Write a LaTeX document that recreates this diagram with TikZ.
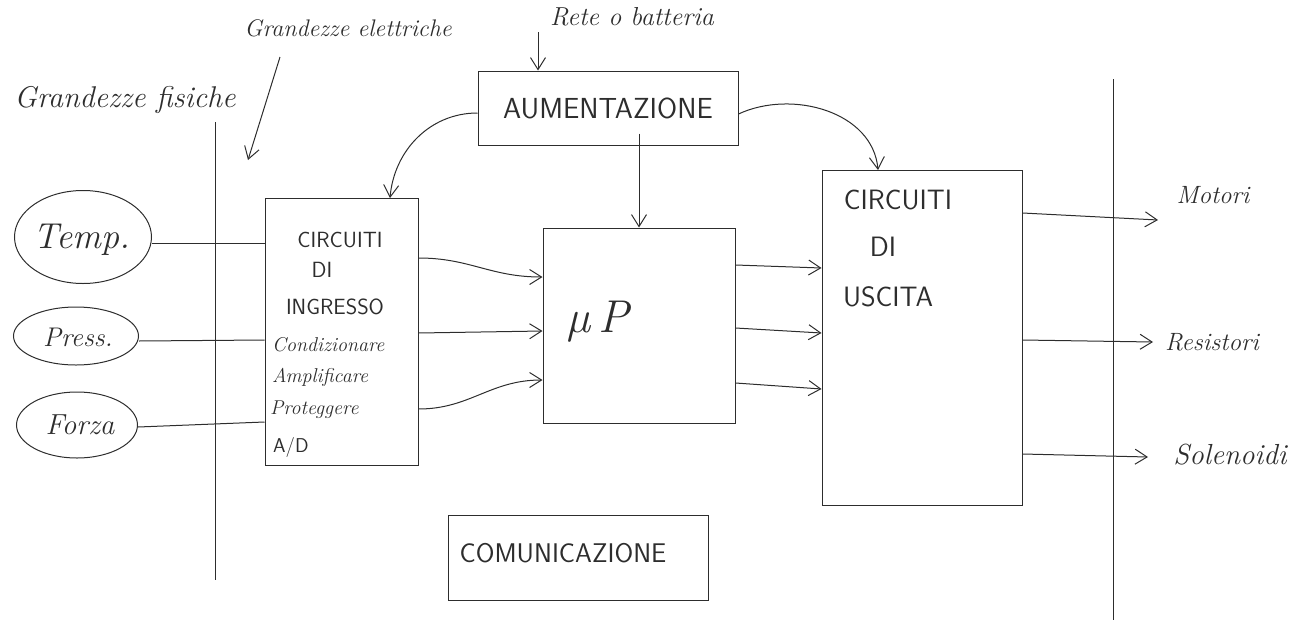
\documentclass[tikz,border=0pt]{standalone}
\usepackage{fontspec}
\usetikzlibrary{arrows.meta,shapes.geometric}
\definecolor{pen}{RGB}{45,45,45}
\begin{document}
\begin{tikzpicture}[x=1pt,y=-1pt,
  ink/.style={draw=pen, line width=1pt},
  block/.style={ink, rectangle, inner sep=0pt},
  qty/.style={ink, ellipse, inner sep=0pt},
  flow/.style={ink, -{Straight Barb[length=12pt,width=15pt,line width=1pt]}},
  wire/.style={ink},
  hand/.style={text=pen, inner sep=0pt, font=\itshape\fontsize{#1}{#1}\selectfont},
  caps/.style={text=pen, inner sep=0pt, font=\sffamily\fontsize{#1}{#1}\selectfont}]
\useasboundingbox (0,0) rectangle (1315,627);

% boundaries between physical and electrical quantities
\draw[wire] (215,122) coordinate (lb-top) -- (215,580) coordinate (lb-bot);
\draw[wire] (1113,79) coordinate (rb-top) -- (1113,620) coordinate (rb-bot);

% headings
\node[hand=30] (fis) at (125,100) {Grandezze fisiche};
\node[hand=24] (ele) at (348,28) {Grandezze elettriche};
\coordinate (ele-tail) at (280,57);
\coordinate (ele-tip) at (248,160);
\draw[flow] (ele-tail) -- (ele-tip);

% blocks
\node[block, minimum width=260, minimum height=74] (alim) at (608,108) {};
\node[caps=29] at (alim) {AUMENTAZIONE};
\node[block, minimum width=153, minimum height=267] (inp) at (341.5,331.5) {};
\node[block, minimum width=192, minimum height=195] (mup) at (639,325.5) {};
\node[block, minimum width=200, minimum height=335] (out) at (922,337.5) {};
\node[block, minimum width=260, minimum height=85] (comm) at (578,557.5) {};
\node[caps=27] at (563,553) {COMUNICAZIONE};

% block texts
\node[caps=22] at (340,240) {CIRCUITI};
\node[caps=22] at (322,270) {DI};
\node[caps=22] at (335,307) {INGRESSO};
\node[hand=20, anchor=west] at (272,345) {Condizionare};
\node[hand=20, anchor=west] at (272,377) {Amplificare};
\node[hand=20, anchor=west] at (270,410) {Proteggere};
\node[caps=20, anchor=west] at (273,447) {A/D};

\node[hand=46] at (598,322) {\symbol{"00B5}\,P};

\node[caps=28] at (898,200) {CIRCUITI};
\node[caps=28] at (883,247) {DI};
\node[caps=28] at (888,297) {USCITA};

% power supply
\node[hand=26] (rete) at (632,17) {Rete o batteria};
\coordinate (rete-tail) at (538,32);
\draw[flow] (rete-tail) -- (rete-tail |- alim.north);
\draw[flow] ([yshift=-5]alim.west) to[out=180,in=85] (390,198);
\draw[flow] ([yshift=-6]alim.east) to[out=25,in=95] (878,170);
\draw[flow] ([yshift=12]alim.south -| mup.north) -- (mup.north);

% physical quantities
\node[qty, minimum width=137, minimum height=93] (temp) at (83,237) {};
\node[hand=36] at (82,240) {Temp.};
\node[qty, minimum width=125, minimum height=58] (press) at (76,336) {};
\node[hand=27] at (78,337) {Press.};
\node[qty, minimum width=121, minimum height=66] (forza) at (77,425) {};
\node[hand=29] at (80,425) {Forza};

\draw[wire] (temp.east) ++(0,6) -- (inp.west |- 0,243);
\draw[wire] (press.east) ++(0,5) -- (inp.west |- 0,340);
\draw[wire] (forza.east) ++(0,2) -- (inp.west |- 0,422);

% input circuits to microprocessor
\draw[flow] (inp.east |- 0,258) .. controls (470,258) and (490,277) .. (mup.west |- 0,277);
\draw[flow] (inp.east |- 0,333) -- (mup.west |- 0,331);
\draw[flow] (inp.east |- 0,409) .. controls (470,409) and (490,380) .. (mup.west |- 0,380);

% microprocessor to output circuits
\draw[flow] (mup.east |- 0,265) -- (out.west |- 0,268);
\draw[flow] (mup.east |- 0,328) -- (out.west |- 0,333);
\draw[flow] (mup.east |- 0,383) -- (out.west |- 0,389);

% actuators
\coordinate (mot-tip) at (1158,220);
\coordinate (res-tip) at (1153,342);
\coordinate (sol-tip) at (1148,457);
\draw[flow] (out.east |- 0,213) -- (mot-tip);
\draw[flow] (out.east |- 0,340) -- (res-tip);
\draw[flow] (out.east |- 0,454) -- (sol-tip);
\node[hand=25] (mot) at (1213,195) {Motori};
\node[hand=25] (res) at (1212,342) {Resistori};
\node[hand=29] (sol) at (1230,455) {Solenoidi};
\end{tikzpicture}
\end{document}
